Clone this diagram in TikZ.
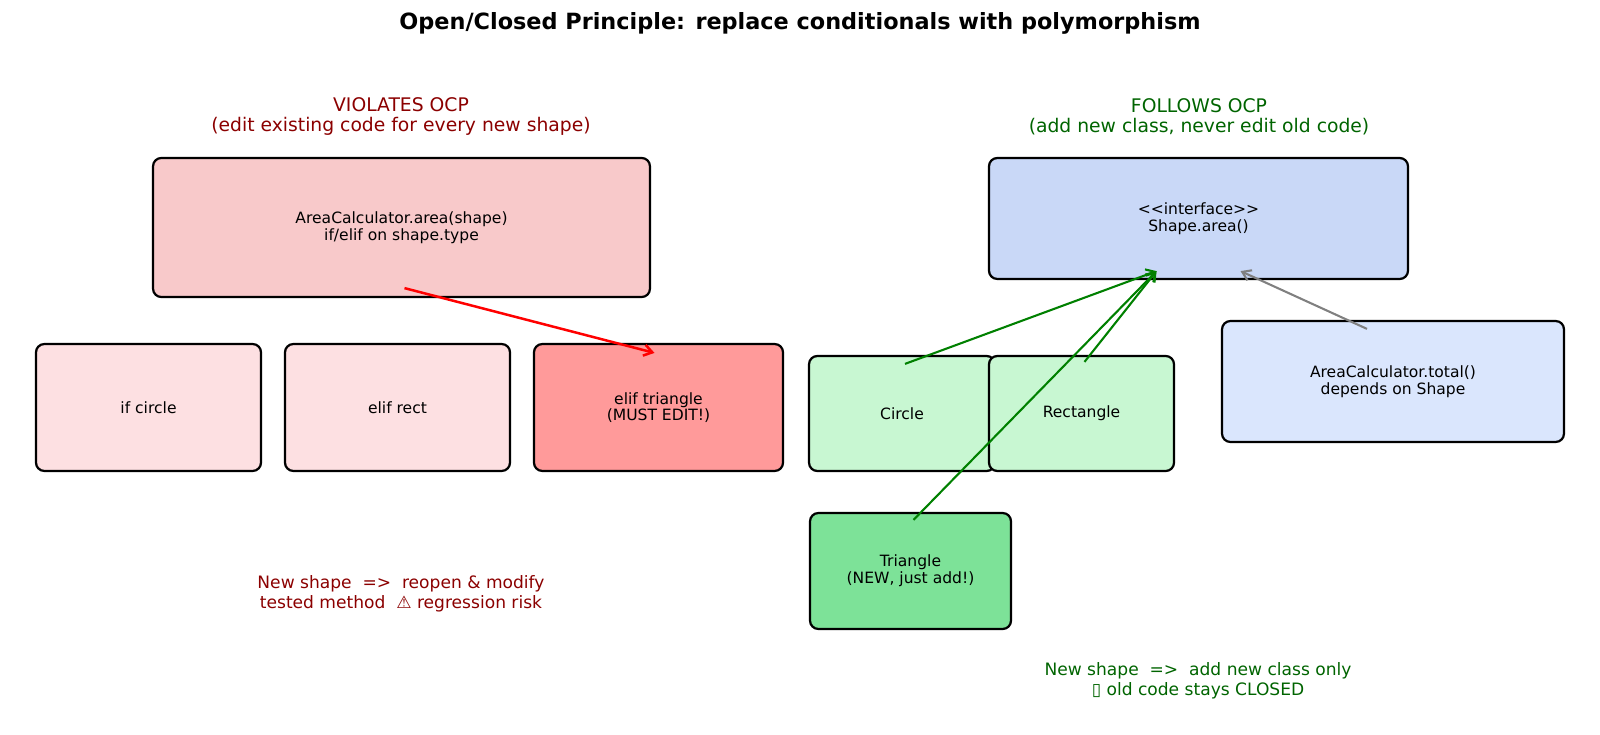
\documentclass[tikz,border=0pt]{standalone}
\usepackage{fontspec}
\setmainfont{DejaVu Sans}
\usetikzlibrary{arrows.meta, positioning, calc}
\definecolor{badfill}{HTML}{F8C9CA}
\definecolor{branchfill}{HTML}{FDE0E2}
\definecolor{editfill}{HTML}{FF9A9A}
\definecolor{classfill}{HTML}{C8F7D2}
\definecolor{newfill}{HTML}{7DE298}
\definecolor{ifacefill}{HTML}{C9D8F7}
\definecolor{userfill}{HTML}{DAE6FD}
\definecolor{badtext}{HTML}{8B0000}
\definecolor{goodtext}{HTML}{006400}
\definecolor{goodarrow}{HTML}{008000}

\begin{document}
\begin{tikzpicture}[x=0.72pt, y=-0.72pt,
    box/.style={rectangle, draw=black, line width=1.6pt, rounded corners=6pt, inner sep=0pt, align=center, font=\fontsize{11.2}{12}\selectfont},
    heading/.style={align=center, font=\fontsize{13.5}{14.8}\selectfont},
    note/.style={align=center, font=\fontsize{12.3}{14}\selectfont},
    link/.style={-{Straight Barb[length=6pt, width=8pt]}, line width=1.5pt}
]
    \useasboundingbox (0,0) rectangle (1600,735);

    \node[font=\fontsize{16.1}{18}\selectfont\bfseries] (title) at (800,23) {Open/Closed Principle: replace conditionals with polymorphism};

    \node[heading, text=badtext] (badhead) at (401,116.5) {VIOLATES OCP\\(edit existing code for every new shape)};
    \node[heading, text=goodtext] (goodhead) at (1199,117) {FOLLOWS OCP\\(add new class, never edit old code)};

    \node[box, fill=badfill, minimum width=357.8pt, minimum height=100.1pt] (calc) at (401.5,227.5) {AreaCalculator.area(shape)\\if/elif on shape.type};
    \node[box, fill=branchfill, minimum width=162pt, minimum height=91.4pt] (ifcircle) at (148.5,407.5) {if circle};
    \node[box, fill=branchfill, minimum width=162pt, minimum height=91.4pt] (elifrect) at (397.5,407.5) {elif rect};
    \node[box, fill=editfill, minimum width=179.3pt, minimum height=91.4pt] (eliftri) at (658.5,407.5) {elif triangle\\(MUST EDIT!)};

    \node[box, fill=ifacefill, minimum width=301.7pt, minimum height=87.1pt] (iface) at (1198.5,218.5) {<{}<interface>{}>\\Shape.area()};
    \node[box, fill=classfill, minimum width=133.9pt, minimum height=82.8pt] (circ) at (902,413.5) {Circle};
    \node[box, fill=classfill, minimum width=133.2pt, minimum height=82.8pt] (rect) at (1081.5,413.5) {Rectangle};
    \node[box, fill=userfill, minimum width=246.2pt, minimum height=87.1pt] (total) at (1393,381.5) {AreaCalculator.total()\\depends on Shape};
    \node[box, fill=newfill, minimum width=144.7pt, minimum height=83.5pt] (tri) at (910.5,571) {Triangle\\(NEW, just add!)};

    \draw[link, red, line width=1.8pt] ($(calc.south)+(3,-10)$) -- ($(eliftri.north)+(-4,10)$);
    \draw[link, goodarrow] ($(circ.north)+(3,9)$) -- ($(iface.south)+(-42,-9)$);
    \draw[link, goodarrow] ($(rect.north)+(3,7)$) -- ($(iface.south)+(-42,-9)$);
    \draw[link, goodarrow] ($(tri.north)+(3,8)$) -- ($(iface.south)+(-42,-9)$);
    \draw[link, gray] ($(total.north)+(-26,9)$) -- ($(iface.south)+(42,-9)$);

    \node[note, text=badtext] (badnote) at (401,594) {New shape\ \ =>\ \ reopen \& modify\\tested method\ \ ⚠ regression risk};
    \node[note, text=goodtext] (goodnote) at (1198,681) {New shape\ \ =>\ \ add new class only\\\symbol{"25AF} old code stays CLOSED};
\end{tikzpicture}
\end{document}
